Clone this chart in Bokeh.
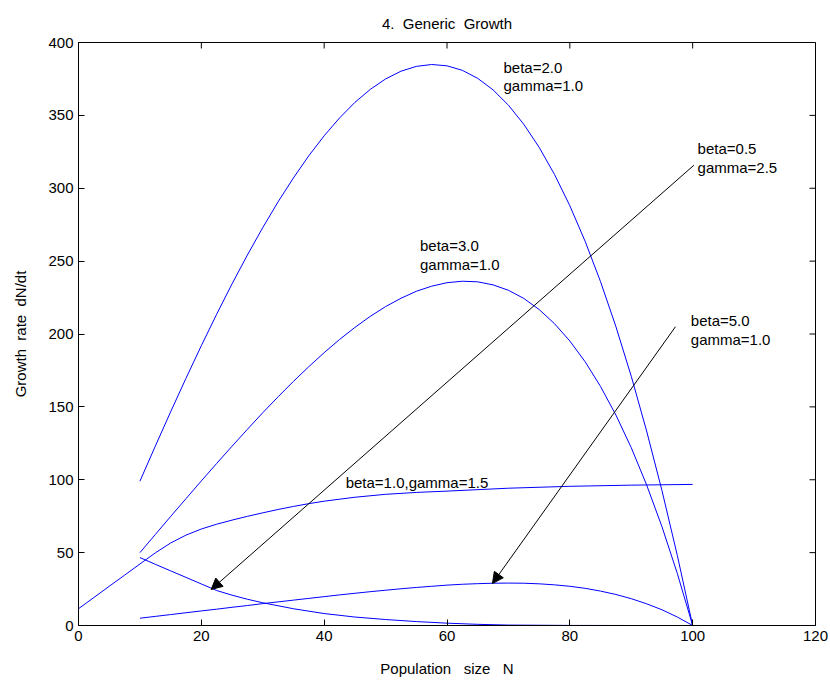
from bokeh.plotting import figure
from bokeh.models import Range1d, FixedTicker, Arrow, NormalHead
from bokeh.embed import file_html
from bokeh.resources import INLINE
from bokeh.core.properties import value
import math

FONT = "Liberation Sans"
NB = "\u00a0"

# ---- data ----
N_main = [10, 12.5, 15, 17.5, 20, 22.5, 25, 27.5, 30, 32.5, 35, 37.5, 40, 42.5, 45, 47.5, 50,
          52.5, 55, 57.5, 60, 62.5, 65, 67.5, 70, 72.5, 75, 77.5, 80, 82.5, 85, 87.5, 90,
          92.5, 95, 97.5, 100]
rate_beta2 = [99.0, 123.0, 146.6, 169.6, 192.0, 213.6, 234.4, 254.2, 273.0, 290.7, 307.1,
              322.3, 336.0, 348.2, 358.9, 367.8, 375.0, 380.3, 383.6, 384.9, 384.0, 380.9,
              375.4, 367.5, 357.0, 343.9, 328.1, 309.5, 288.0, 263.5, 235.9, 205.1, 171.0,
              133.5, 92.6, 48.1, 0.0]
rate_beta3 = [50.0, 62.4, 74.8, 87.0, 99.2, 111.2, 123.0, 134.6, 146.0, 156.9, 167.5, 177.6,
              187.2, 196.2, 204.5, 212.1, 218.8, 224.5, 229.3, 232.8, 235.2, 236.2, 235.8,
              233.7, 230.0, 224.4, 216.8, 207.1, 195.2, 180.9, 164.0, 144.4, 122.0, 96.5,
              67.8, 35.7, 0.0]
rate_beta5 = [5.0, 6.25, 7.5, 8.75, 10.0, 11.2, 12.5, 13.7, 15.0, 16.2, 17.4, 18.6, 19.8,
              21.0, 22.1, 23.2, 24.2, 25.2, 26.1, 26.9, 27.7, 28.3, 28.7, 29.0, 29.1, 29.0,
              28.6, 27.9, 26.9, 25.5, 23.6, 21.3, 18.4, 14.9, 10.8, 5.8, 0.0]

N_beta1 = [0, 2.5, 5, 7.5, 10, 12.5, 15, 17.5, 20, 22.5, 25, 27.5, 30, 32.5, 35, 37.5, 40,
           45, 50, 55, 60, 70, 80, 90, 100]
rate_beta1 = [11.5, 19.2, 26.9, 34.5, 42.2, 49.8, 56.6, 62.0, 66.2, 69.5, 72.3, 74.9, 77.3,
              79.6, 81.7, 83.6, 85.3, 88.0, 90.0, 91.3, 92.2, 94.2, 95.5, 96.3, 96.8]

N_beta05 = [10, 12.5, 15, 17.5, 20, 22.5, 25, 27.5, 30, 35, 40, 45, 50, 55, 60, 65, 70, 80, 90, 100]
rate_beta05 = [46.6, 42.0, 37.5, 33.0, 28.5, 24.0, 20.8, 18.0, 15.6, 11.5, 8.2, 5.8, 4.1, 2.7,
               1.6, 0.8, 0.3, 0.05, 0.0, 0.0]

x_ticks = [0, 20, 40, 60, 80, 100, 120]
y_ticks = [0, 50, 100, 150, 200, 250, 300, 350, 400]
x_lim = [0, 120]
y_lim = [0, 400]

labels = ["beta=2.0\ngamma=1.0", "beta=3.0\ngamma=1.0", "beta=0.5\ngamma=2.5",
          "beta=5.0\ngamma=1.0", "beta=1.0,gamma=1.5"]
label_x = [69.2, 55.6, 100.8, 99.7, 43.5]
label_y = [389.0, 266.6, 333.0, 215.0, 104.0]

arrow_x0 = [100.2, 97.2]
arrow_y0 = [315.8, 205.0]
arrow_x1 = [21.6, 67.4]
arrow_y1 = [24.7, 28.8]

title_text = "4." + NB + " Generic" + NB + " Growth"
xlabel_text = "Population" + NB + NB + " size" + NB + NB + " N"
ylabel_text = "Growth" + NB + " rate" + NB + " dN/dt"

# ---- figure ----
p = figure(width=830, height=683, x_range=Range1d(*x_lim), y_range=Range1d(*y_lim),
           output_backend="svg", toolbar_location=None,
           min_border_left=78, min_border_right=15, min_border_top=42, min_border_bottom=58,
           title=title_text)
p.grid.visible = False
p.outline_line_color = "black"
p.outline_line_width = 1
p.background_fill_color = "white"
p.border_fill_color = "white"

p.title.align = "center"
p.title.text_font = FONT
p.title.text_font_size = "15px"
p.title.text_font_style = "normal"
p.title.text_color = "black"
p.title.offset = 0
p.title.standoff = 22

p.xaxis.ticker = FixedTicker(ticks=x_ticks)
p.yaxis.ticker = FixedTicker(ticks=y_ticks)

for ax in p.axis:
    ax.major_tick_in = 6
    ax.major_tick_out = 0
    ax.minor_tick_in = 0
    ax.minor_tick_out = 0
    ax.axis_line_color = "black"
    ax.major_tick_line_color = "black"
    ax.major_label_text_font = FONT
    ax.major_label_text_font_size = "15px"
    ax.major_label_text_color = "black"
    ax.axis_label_text_font = FONT
    ax.axis_label_text_font_size = "15px"
    ax.axis_label_text_font_style = "normal"
    ax.axis_label_text_color = "black"
    ax.major_label_standoff = 5

p.xaxis.axis_label = xlabel_text
p.xaxis.axis_label_standoff = 16
p.yaxis.axis_label = ylabel_text
p.yaxis.axis_label_standoff = 16

# inward tick marks on the top and right edges (half of each dash is clipped by the frame)
p.scatter(x=x_ticks, y=[y_lim[1]] * len(x_ticks), marker="dash", angle=math.pi / 2,
          size=12, line_color="black", line_width=1)
p.scatter(x=[x_lim[1]] * len(y_ticks), y=y_ticks, marker="dash",
          size=12, line_color="black", line_width=1)

blue = "#0000ff"
p.line(N_main, rate_beta2, line_color=blue, line_width=1)
p.line(N_main, rate_beta3, line_color=blue, line_width=1)
p.line(N_main, rate_beta5, line_color=blue, line_width=1)
p.line(N_beta1, rate_beta1, line_color=blue, line_width=1)
p.line(N_beta05, rate_beta05, line_color=blue, line_width=1)

for i in range(len(arrow_x0)):
    p.add_layout(Arrow(end=NormalHead(size=11, fill_color="black", line_color="black"),
                       x_start=arrow_x0[i], y_start=arrow_y0[i],
                       x_end=arrow_x1[i], y_end=arrow_y1[i],
                       line_color="black", line_width=1))

p.text(x=label_x, y=label_y, text=labels, text_font=value(FONT), text_font_size="15px",
       text_baseline="top", text_align="left", text_color="black", text_line_height=1.1)

open("out.html", "w").write(file_html(p, INLINE))
